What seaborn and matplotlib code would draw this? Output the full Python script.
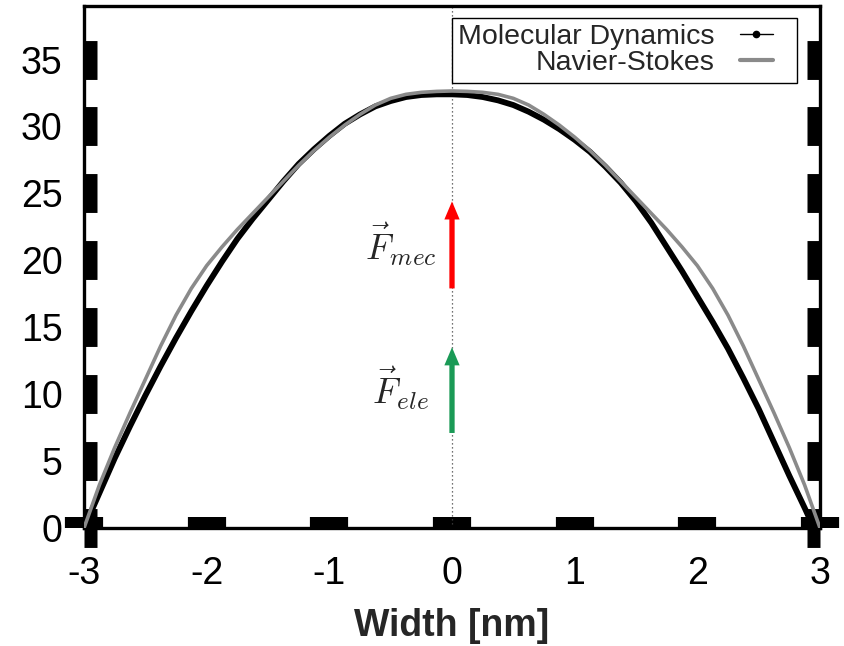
import numpy as np
import pandas as pd
import matplotlib
matplotlib.use("Agg")
import matplotlib.pyplot as plt
import seaborn as sns
from matplotlib.lines import Line2D
from matplotlib.legend_handler import HandlerLine2D
from matplotlib.patches import FancyArrowPatch

# ---------------- data ----------------
md_x = [-3.0, -2.875, -2.75, -2.625, -2.5, -2.375, -2.25, -2.125, -2.0, -1.875, -1.75,
        -1.625, -1.5, -1.375, -1.25, -1.125, -1.0, -0.875, -0.75, -0.625, -0.5, -0.375,
        -0.25, -0.125, 0.0, 0.125, 0.25, 0.375, 0.5, 0.625, 0.75, 0.875, 1.0, 1.125,
        1.25, 1.375, 1.5, 1.625, 1.75, 1.875, 2.0, 2.125, 2.25, 2.375, 2.5, 2.625,
        2.75, 2.875, 2.95]
md_y = [0.0, 2.6, 5.2, 7.6, 9.9, 12.1, 14.2, 16.2, 18.1, 19.9, 21.6,
        23.1, 24.5, 25.9, 27.2, 28.3, 29.3, 30.2, 30.9, 31.5, 31.9, 32.2,
        32.35, 32.4, 32.4, 32.35, 32.2, 31.95, 31.6, 31.1, 30.5, 29.8, 29.0, 28.1,
        27.0, 25.8, 24.4, 22.8, 21.0, 19.2, 17.3, 15.4, 13.4, 11.2, 8.9, 6.4,
        3.9, 1.5, 0.0]

ns_x = [-3.0, -2.875, -2.75, -2.625, -2.5, -2.375, -2.25, -2.125, -2.0, -1.875, -1.75,
        -1.625, -1.5, -1.375, -1.25, -1.125, -1.0, -0.875, -0.75, -0.625, -0.5, -0.375,
        -0.25, -0.125, 0.0, 0.125, 0.25, 0.375, 0.5, 0.625, 0.75, 0.875, 1.0, 1.125,
        1.25, 1.375, 1.5, 1.625, 1.75, 1.875, 2.0, 2.125, 2.25, 2.375, 2.5, 2.625,
        2.75, 2.875, 3.0]
ns_y = [0.0, 3.2, 6.0, 8.6, 11.1, 13.6, 15.9, 17.9, 19.6, 21.0, 22.3,
        23.5, 24.7, 25.9, 27.1, 28.2, 29.2, 30.1, 30.9, 31.6, 32.1, 32.4,
        32.55, 32.62, 32.65, 32.62, 32.55, 32.4, 32.1, 31.6, 30.9, 30.1, 29.2, 28.2,
        27.1, 25.9, 24.7, 23.5, 22.3, 21.0, 19.6, 17.9, 15.9, 13.6, 11.1, 8.6,
        6.0, 3.2, 0.0]

series_names = ["Molecular Dynamics", "Navier-Stokes"]
x_ticks = [-3, -2, -1, 0, 1, 2, 3]
y_ticks = [0, 5, 10, 15, 20, 25, 30, 35]
x_label = "Width [nm]"
arrow_mec = (0.0, 17.9, 24.4)   # x, y start, y tip
arrow_ele = (0.0, 7.1, 13.5)
label_mec = r"$\vec{F}_{mec}$"
label_ele = r"$\vec{F}_{ele}$"

# ---------------- style ----------------
sns.set_style("ticks")
plt.rcParams["font.family"] = ["Liberation Sans", "DejaVu Sans"]
plt.rcParams["mathtext.fontset"] = "cm"

GREY = "#8a8a8a"
GREEN = "#1a9a56"

fig = plt.figure(figsize=(8.44, 6.46), dpi=100)
ax = fig.add_axes([84 / 844, 1 - 528 / 646, (820 - 84) / 844, (528 - 6) / 646])

md = pd.DataFrame({"x": md_x, "y": md_y})
ns = pd.DataFrame({"x": ns_x, "y": ns_y})

ax.axvline(0, color="#444444", lw=0.9, ls=(0, (1, 2.2)), zorder=1)

sns.lineplot(data=md, x="x", y="y", ax=ax, color="black", lw=4.2, sort=False,
             estimator=None, legend=False, zorder=3)
sns.lineplot(data=ns, x="x", y="y", ax=ax, color=GREY, lw=2.6, sort=False,
             estimator=None, legend=False, zorder=4)
for ln in ax.lines:
    ln.set_solid_joinstyle("round")

# arrows
for (ax_x, y0, y1), col in [(arrow_mec, "#ff0000"), (arrow_ele, GREEN)]:
    arr = FancyArrowPatch((ax_x, y0), (ax_x, y1),
                          arrowstyle="simple,head_length=13,head_width=11,tail_width=3.8",
                          mutation_scale=1, color=col, shrinkA=0, shrinkB=0, lw=0, zorder=5)
    ax.add_patch(arr)

ax.text(-0.42, 21.2, label_mec, fontsize=26, ha="center", va="center", zorder=5)
ax.text(-0.42, 10.45, label_ele, fontsize=26, ha="center", va="center", zorder=5)

ax.set_xlim(-3, 3)
ax.set_ylim(0, 39)
ax.set_xticks(x_ticks)
ax.set_xticklabels([str(v) for v in x_ticks])
ax.set_yticks(y_ticks)
ax.set_yticklabels([str(v) for v in y_ticks])
ax.set_xlabel(x_label, fontsize=27, fontweight="bold", labelpad=11)
ax.set_ylabel("")

for s in ax.spines.values():
    s.set_visible(True)
    s.set_linewidth(2.4)
    s.set_color("black")

ax.tick_params(axis="x", direction="in", length=8, width=27.5, top=False, bottom=True,
               pad=20.5, labelsize=27, colors="black")
ax.tick_params(axis="y", direction="in", length=9.5, width=28, left=True, right=True,
               pad=15.5, labelsize=27, colors="black")


class ShortLine(HandlerLine2D):
    def __init__(self, frac=0.65, **kw):
        super().__init__(**kw)
        self.frac = frac

    def get_xdata(self, legend, xdescent, ydescent, width, height, fontsize):
        w = width * self.frac
        return np.array([-xdescent, -xdescent + w]), np.array([-xdescent + 0.5 * w])


h_md = Line2D([], [], color="black", lw=1.0, marker="o", ms=4.5)
h_ns = Line2D([], [], color=GREY, lw=3.0)
leg = ax.legend([h_md, h_ns], series_names, loc="upper right",
                bbox_to_anchor=((797 - 84) / 736, (528 - 18) / 522), borderaxespad=0,
                markerfirst=False, fontsize=20.5, frameon=True, fancybox=False,
                framealpha=1, edgecolor="black", handlelength=1.79, handletextpad=0.88,
                borderpad=0.22, labelspacing=0.0, numpoints=1,
                handler_map={Line2D: ShortLine(0.65)})
leg.get_frame().set_linewidth(1.0)

fig.savefig("out.png", dpi=100)
